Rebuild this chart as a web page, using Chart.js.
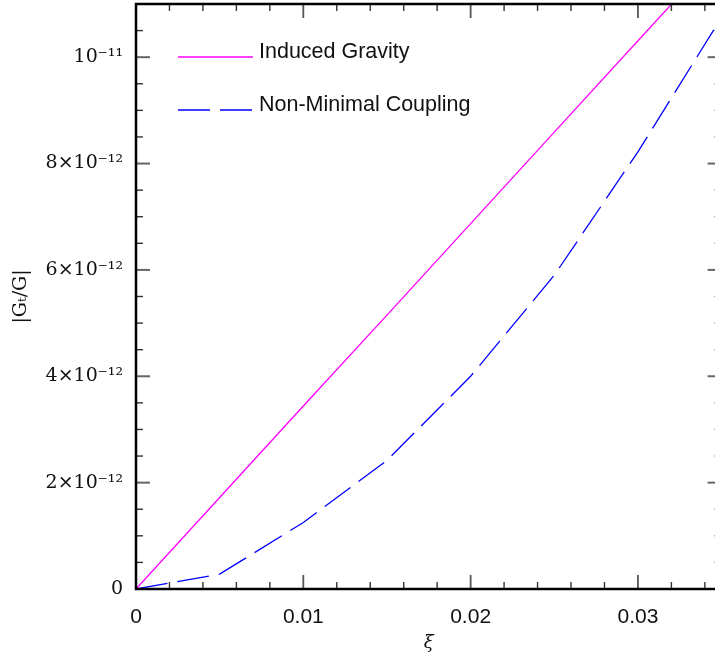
<!DOCTYPE html>
<html><head><meta charset="utf-8">
<script src="https://cdn.jsdelivr.net/npm/chart.js@4.4.1/dist/chart.umd.min.js"></script>
<style>
html,body{margin:0;padding:0;background:#fff;overflow:hidden;width:715px;height:663px}
canvas{display:block}
</style></head>
<body><canvas id="c" width="723" height="663"></canvas>
<script>
// ---- data ----
const xi = [0, 0.005, 0.01, 0.015, 0.02, 0.025, 0.03, 0.035];
const inducedGravity = [0, 1.72e-12, 3.44e-12, 5.15e-12, 6.87e-12, 8.59e-12, 1.031e-11, 1.202e-11];
const nonMinimalCoupling = [0, 0.28e-12, 1.25e-12, 2.42e-12, 4.0e-12, 5.9e-12, 8.22e-12, 10.75e-12];
const seriesNames = ['Induced Gravity', 'Non-Minimal Coupling'];
const xTickLabels = ['0', '0.01', '0.02', '0.03'];
const yTickLabels = ['0', '2×10⁻¹²', '4×10⁻¹²', '6×10⁻¹²', '8×10⁻¹²', '10⁻¹¹'];
const xTitle = 'ξ';
const yTitle = '|Gₜ/G|';

const X_STEP = 0.002, X_MAJOR = 5;
const Y_STEP = 5e-13, Y_MAJOR = 4;

const framePlugin = {
  id: 'frameTicks',
  afterDatasetsDraw(chart) {
    const {ctx, chartArea: a, scales: {x, y}} = chart;
    ctx.save();
    const line = (x1, y1, x2, y2) => { ctx.beginPath(); ctx.moveTo(x1, y1); ctx.lineTo(x2, y2); ctx.stroke(); };
    x.ticks.forEach(t => {
      const k = Math.round(t.value / X_STEP);
      if (Math.abs(t.value - k * X_STEP) > 1e-9) return;
      const major = k % X_MAJOR === 0;
      const p = x.getPixelForValue(t.value);
      const L = major ? 14 : 7;
      ctx.lineWidth = major ? 1.8 : 1.4;
      ctx.strokeStyle = major ? '#555' : '#333';
      line(p, a.bottom, p, a.bottom - L);
      line(p, a.top, p, a.top + L);
    });
    y.ticks.forEach(t => {
      const k = Math.round(t.value / Y_STEP);
      if (Math.abs(t.value - k * Y_STEP) > 1e-15) return;
      const major = k % Y_MAJOR === 0;
      const p = y.getPixelForValue(t.value);
      const L = major ? 14 : 7;
      ctx.lineWidth = major ? 2 : 1.4;
      ctx.strokeStyle = major ? '#666' : '#333';
      line(a.left, p, a.left + L, p);
      line(a.right, p, a.right - L, p);
    });
    ctx.lineWidth = 2.5;
    ctx.strokeStyle = '#000';
    ctx.strokeRect(a.left, a.top, a.right - a.left, a.bottom - a.top);

    // legend inside plot
    const lx = a.left + 42, len = 75;
    chart.data.datasets.forEach((ds, i) => {
      const ly = a.top + 53 + i * 53;
      ctx.strokeStyle = ds.borderColor;
      ctx.lineWidth = ds.borderWidth;
      ctx.setLineDash(ds.borderDash || []);
      line(lx, ly, lx + len, ly);
      ctx.setLineDash([]);
      ctx.fillStyle = '#111';
      ctx.font = '21.5px "Liberation Sans", Arial, sans-serif';
      ctx.textBaseline = 'alphabetic';
      ctx.textAlign = 'left';
      ctx.fillText(ds.label, lx + len + 6, ly + 1);
    });
    ctx.restore();
  }
};

new Chart(document.getElementById('c'), {
  type: 'line',
  data: {
    datasets: [
      {
        label: seriesNames[0],
        data: xi.map((v, i) => ({x: v, y: inducedGravity[i]})),
        borderColor: '#ff00ff',
        borderWidth: 1.3,
        pointRadius: 0,
        tension: 0,
        fill: false
      },
      {
        label: seriesNames[1],
        data: xi.map((v, i) => ({x: v, y: nonMinimalCoupling[i]})),
        borderColor: '#0000ff',
        borderWidth: 1.3,
        borderDash: [32, 10],
        pointRadius: 0,
        tension: 0,
        fill: false
      }
    ]
  },
  options: {
    responsive: false,
    animation: false,
    devicePixelRatio: 1,
    layout: {padding: {top: 4, right: 1.4, left: 0, bottom: 0}},
    plugins: {legend: {display: false}, tooltip: {enabled: false}},
    scales: {
      x: {
        type: 'linear',
        min: 0, max: 0.035,
        grid: {display: false, drawTicks: false},
        border: {display: false},
        ticks: {
          stepSize: X_STEP,
          autoSkip: false,
          includeBounds: false,
          maxRotation: 0,
          padding: 16,
          color: '#111',
          font: {family: '"Liberation Sans", Arial, sans-serif', size: 21},
          callback: (v) => {
            const k = Math.round(v / X_STEP);
            return k % X_MAJOR === 0 ? (xTickLabels[k / X_MAJOR] ?? '') : '';
          }
        },
        title: {
          display: true, text: xTitle, color: '#111',
          font: {family: '"DejaVu Serif", serif', size: 18, style: 'italic'},
          padding: {top: 0, bottom: 9}
        },
        afterFit: (s) => { s.height = 74; s.paddingLeft = 0; s.paddingRight = 0; }
      },
      y: {
        type: 'linear',
        min: 0, max: 1.1e-11,
        grid: {display: false, drawTicks: false},
        border: {display: false},
        ticks: {
          stepSize: Y_STEP,
          autoSkip: false,
          includeBounds: false,
          padding: 13,
          color: '#111',
          font: {family: '"DejaVu Serif", serif', size: 19},
          callback: (v) => {
            const k = Math.round(v / Y_STEP);
            return k % Y_MAJOR === 0 ? (yTickLabels[k / Y_MAJOR] ?? '') : '';
          }
        },
        title: {
          display: true, text: yTitle, color: '#111',
          font: {family: '"DejaVu Serif", serif', size: 19},
          padding: {top: 10, bottom: 0}
        },
        afterFit: (s) => { s.width = 136; s.paddingTop = 0; s.paddingBottom = 0; }
      }
    }
  },
  plugins: [framePlugin]
});
</script>
</body></html>
